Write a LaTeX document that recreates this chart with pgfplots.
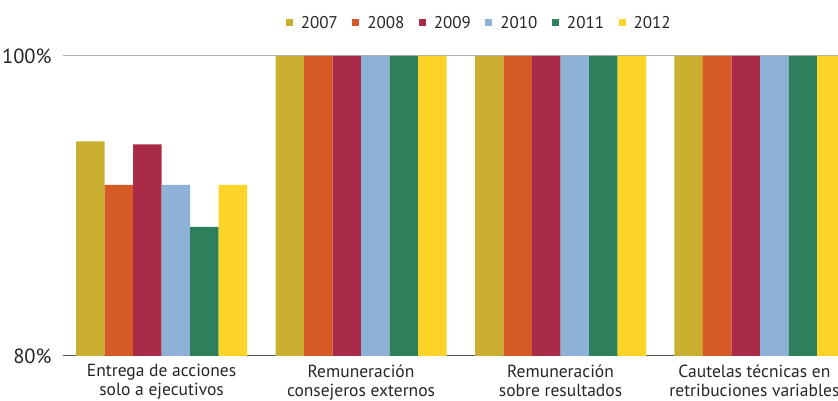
\documentclass[border=0pt]{standalone}
\usepackage{fontspec}
\setmainfont{PT Sans}
\usepackage{pgfplots}
\pgfplotsset{compat=1.18}
\definecolor{c07}{HTML}{C9AE30}
\definecolor{c08}{HTML}{D65A26}
\definecolor{c09}{HTML}{A92B48}
\definecolor{c10}{HTML}{8EB1D8}
\definecolor{c11}{HTML}{2E7F5C}
\definecolor{c12}{HTML}{FDD427}
\begin{document}
\begin{tikzpicture}
\useasboundingbox (0,0) rectangle (838pt,401pt);
\begin{axis}[
  at={(63pt,45pt)}, anchor=south west,
  scale only axis, width=775pt, height=300pt,
  ymin=80, ymax=100, xmin=-0.494, xmax=3.391,
  ybar=0pt, bar width=0.1429,
  axis x line*=bottom, axis y line*=left,
  y axis line style={draw=none},
  x axis line style={black!65, line width=1pt},
  ymajorgrids, grid style={black!30, line width=1pt},
  ytick={80,100}, yticklabels={80\%,100\%},
  major tick length=0pt,
  yticklabel shift=8pt,
  xtick={0,1,2},
  xticklabels={Entrega de acciones\\solo a ejecutivos, Remuneración\\consejeros externos, Remuneración\\sobre resultados},
  extra x ticks={2.972},
  extra x tick labels={Cautelas técnicas en\\retribuciones variables},
  xticklabel style={align=center, font=\fontsize{17.5}{19}\selectfont, text=black!85},
  yticklabel style={font=\fontsize{20.5}{21}\selectfont, text=black!85},
  xticklabel shift=5pt,
  every axis plot/.append style={draw=none},
  legend style={at={(rel axis cs:0.537,1.11)}, anchor=center, draw=none, fill=none,
    legend columns=6, font=\fontsize{17}{19}\selectfont, text=black!85,
    /tikz/every even column/.append style={column sep=12.5pt}},
  legend image code/.code={\fill[#1] (0pt,-3.5pt) rectangle (7pt,3.5pt); \path (13pt,0pt);},
]
\addplot[fill=c07] coordinates {(0,94.3) (1,100) (2,100) (3,100)};
\addplot[fill=c08] coordinates {(0,91.4) (1,100) (2,100) (3,100)};
\addplot[fill=c09] coordinates {(0,94.1) (1,100) (2,100) (3,100)};
\addplot[fill=c10] coordinates {(0,91.4) (1,100) (2,100) (3,100)};
\addplot[fill=c11] coordinates {(0,88.6) (1,100) (2,100) (3,100)};
\addplot[fill=c12] coordinates {(0,91.4) (1,100) (2,100) (3,100)};
\legend{2007,2008,2009,2010,2011,2012}
\end{axis}
\end{tikzpicture}
\end{document}
